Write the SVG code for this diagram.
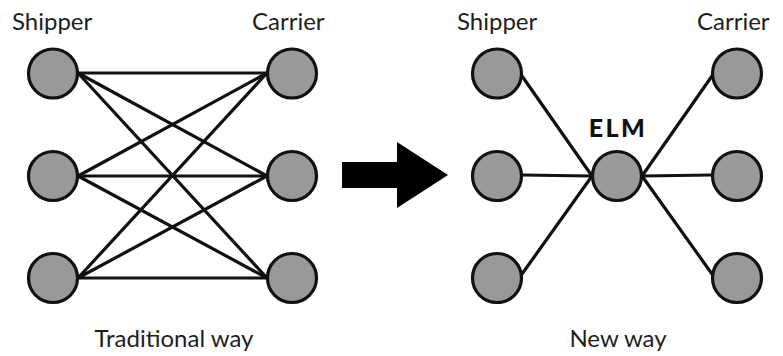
<svg xmlns="http://www.w3.org/2000/svg" width="783" height="356" viewBox="0 0 783 356">
  <style>
    .node { fill: #999999; stroke: #111111; stroke-width: 3.2; }
    .link { stroke: #111111; stroke-width: 3.2; stroke-linecap: round; fill: none; }
    .label { font-family: Lato, "Liberation Sans", sans-serif; font-size: 24px; fill: #1e1e1e; }
    .hub { font-family: Lato, "Liberation Sans", sans-serif; font-size: 25px; font-weight: 900; fill: #111111; letter-spacing: 2.5px; }
  </style>
  <rect width="783" height="356" fill="#ffffff"/>

  <!-- Left panel: every shipper connects to every carrier -->
  <g id="connectors-traditional">
    <line class="link" x1="78" y1="73" x2="267" y2="73"/>
    <line class="link" x1="78" y1="73" x2="267" y2="176"/>
    <line class="link" x1="78" y1="73" x2="267" y2="278"/>
    <line class="link" x1="78" y1="176" x2="267" y2="73"/>
    <line class="link" x1="78" y1="176" x2="267" y2="176"/>
    <line class="link" x1="78" y1="176" x2="267" y2="278"/>
    <line class="link" x1="78" y1="278" x2="267" y2="73"/>
    <line class="link" x1="78" y1="278" x2="267" y2="176"/>
    <line class="link" x1="78" y1="278" x2="267" y2="278"/>
  </g>

  <!-- Right panel: all traffic routed through the ELM hub -->
  <g id="connectors-new">
    <line class="link" x1="522" y1="76" x2="592" y2="176"/>
    <line class="link" x1="522" y1="175" x2="592" y2="176"/>
    <line class="link" x1="522" y1="274" x2="592" y2="176"/>
    <line class="link" x1="642" y1="176" x2="712" y2="76"/>
    <line class="link" x1="642" y1="176" x2="712" y2="175"/>
    <line class="link" x1="642" y1="176" x2="712" y2="274"/>
  </g>

  <g id="shipper-t1"><circle class="node" cx="53" cy="73.5" r="24.5"/></g>
  <g id="shipper-t2"><circle class="node" cx="53" cy="176" r="24.5"/></g>
  <g id="shipper-t3"><circle class="node" cx="53" cy="278" r="24.5"/></g>
  <g id="carrier-t1"><circle class="node" cx="292" cy="73.5" r="24.5"/></g>
  <g id="carrier-t2"><circle class="node" cx="292" cy="176" r="24.5"/></g>
  <g id="carrier-t3"><circle class="node" cx="292" cy="278" r="24.5"/></g>

  <g id="shipper-n1"><circle class="node" cx="497" cy="73.5" r="24.5"/></g>
  <g id="shipper-n2"><circle class="node" cx="497" cy="176" r="24.5"/></g>
  <g id="shipper-n3"><circle class="node" cx="497" cy="278" r="24.5"/></g>
  <g id="elm"><circle class="node" cx="617" cy="176" r="24.5"/><text class="hub" x="618" y="137" text-anchor="middle">ELM</text></g>
  <g id="carrier-n1"><circle class="node" cx="737" cy="73.5" r="24.5"/></g>
  <g id="carrier-n2"><circle class="node" cx="737" cy="176" r="24.5"/></g>
  <g id="carrier-n3"><circle class="node" cx="737" cy="278" r="24.5"/></g>

  <!-- Block arrow between the two panels -->
  <g id="transition-arrow">
    <polygon points="342,162 397,162 397,142 448,175 397,208 397,188 342,188" fill="#000000"/>
  </g>

  <g id="labels">
    <text class="label" x="12" y="30">Shipper</text>
    <text class="label" x="252" y="30">Carrier</text>
    <text class="label" x="457" y="30">Shipper</text>
    <text class="label" x="697" y="30">Carrier</text>
    <text class="label" x="174" y="347" text-anchor="middle">Traditional way</text>
    <text class="label" x="618" y="347" text-anchor="middle">New way</text>
  </g>
</svg>
